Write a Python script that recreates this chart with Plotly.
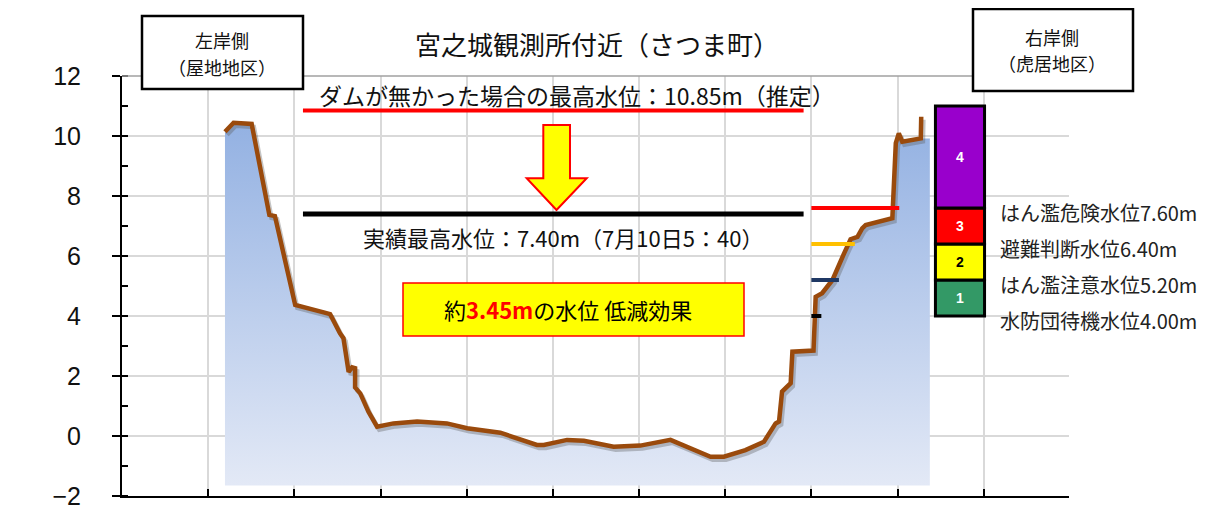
import plotly.graph_objects as go

# ---------------- data ----------------
# river cross-section (distance in m, elevation in m)
section_x = [23.9, 25.9, 30.1, 34.2, 35.5, 40.2, 46.8, 48.3, 50.6, 51.4, 52.6, 53.4, 54.1, 54.1,
             55.3, 57.2, 59.2, 63.0, 68.5, 75.4, 80.1, 87.8, 96.3, 97.9, 103.3, 107.2, 114.1,
             120.3, 127.3, 136.6, 139.7, 144.7, 149.0, 151.7, 152.5, 153.2, 155.2, 155.6, 160.5,
             161.0, 162.5, 164.9, 167.6, 169.1, 170.7, 171.8, 172.6, 178.8, 179.6, 180.3, 181.1,
             185.4, 185.5]
section_y = [10.14, 10.44, 10.40, 7.37, 7.33, 4.37, 4.12, 4.06, 3.42, 3.26, 2.14, 2.29, 2.26, 1.62,
             1.42, 0.81, 0.31, 0.42, 0.48, 0.42, 0.26, 0.11, -0.30, -0.30, -0.13, -0.16, -0.36,
             -0.32, -0.13, -0.69, -0.69, -0.47, -0.19, 0.42, 0.48, 1.48, 1.76, 2.81, 2.85,
             4.64, 4.76, 5.20, 6.09, 6.56, 6.64, 6.92, 7.03, 7.26, 9.76, 10.09, 9.81,
             9.92, 10.64]
FILL_RIGHT_X = 187.5
FILL_BOTTOM = -1.65

# peak water levels
no_dam_level = 10.85
actual_level = 7.40
peak_line_x = [42.0, 158.2]

# warning levels (bottom to top)
level_values = [4.00, 5.20, 6.40, 7.60]
level_names = ["水防団待機水位4.00m", "はん濫注意水位5.20m", "避難判断水位6.40m", "はん濫危険水位7.60m"]
level_line_colors = ["#000000", "#1f3864", "#ffc000", "#ff0000"]
level_line_start = 160.0

# stacked level boxes
box_x = 194.5
box_width = 11.4
box_bases = [4.00, 5.20, 6.40, 7.60]
box_heights = [1.20, 1.20, 1.20, 3.40]
box_labels = ["1", "2", "3", "4"]
box_colors = ["#339966", "#ffff00", "#ff0000", "#9900cc"]
box_text_colors = ["#ffffff", "#000000", "#ffffff", "#ffffff"]

# ---------------- figure geometry ----------------
# the page body has an 8px default margin, so the figure is drawn 8px in from the window corner
OFF = 8
WIN_W, WIN_H = 1232, 518
W, H = WIN_W - OFF, WIN_H - OFF
PL, PR, PT, PB = 122, 1069, 76, 496          # plot area in window pixels
ML, MR, MT, MB = PL - OFF, WIN_W - PR, PT - OFF, WIN_H - PB
PW, PH = PR - PL, PB - PT


def px(xp):
    return (xp - PL) / PW


def py(yp):
    return (PB - yp) / PH


JP = "Noto Sans CJK JP"
fig = go.Figure()

# filled cross-section
fill_x = section_x[:-1] + [FILL_RIGHT_X, FILL_RIGHT_X, section_x[0]]
fill_y = section_y[:-1] + [section_y[-2], FILL_BOTTOM, FILL_BOTTOM]
fig.add_trace(go.Scatter(
    x=fill_x, y=fill_y, fill="toself", mode="none",
    fillgradient=dict(type="vertical", colorscale=[[0, "#e3e9f6"], [1, "#93b1e2"]]),
    hoverinfo="skip", showlegend=False))

# shadow of profile line
fig.add_trace(go.Scatter(
    x=[v + 0.5 for v in section_x], y=[v - 0.1 for v in section_y], mode="lines",
    line=dict(color="rgba(90,90,90,0.35)", width=4.5), hoverinfo="skip", showlegend=False))
# profile line
fig.add_trace(go.Scatter(
    x=section_x, y=section_y, mode="lines",
    line=dict(color="#9a4a0c", width=4.5), showlegend=False))

# peak level lines
fig.add_trace(go.Scatter(x=peak_line_x, y=[no_dam_level] * 2, mode="lines",
                         line=dict(color="#ff0000", width=4), showlegend=False))
fig.add_trace(go.Scatter(x=peak_line_x, y=[actual_level] * 2, mode="lines",
                         line=dict(color="#000000", width=5), showlegend=False))


# warning level lines ending on right bank
def bank_crossing(level):
    for i in range(len(section_x) - 1):
        x0, x1 = section_x[i], section_x[i + 1]
        y0, y1 = section_y[i], section_y[i + 1]
        if x0 >= level_line_start - 1 and y0 <= level <= y1 and y1 != y0:
            return x0 + (level - y0) / (y1 - y0) * (x1 - x0)
    return level_line_start


for lv, col in zip(level_values, level_line_colors):
    xe = bank_crossing(lv) + 1.5
    fig.add_trace(go.Scatter(x=[level_line_start, xe], y=[lv, lv], mode="lines",
                             line=dict(color=col, width=4), showlegend=False))

# stacked level boxes
for b, h, lab, c, tc in zip(box_bases, box_heights, box_labels, box_colors, box_text_colors):
    fig.add_trace(go.Bar(
        x=[box_x], y=[h], base=[b], width=box_width,
        marker=dict(color=c, line=dict(color="#000000", width=3)),
        cliponaxis=False, showlegend=False, hoverinfo="skip"))
    fig.add_annotation(x=box_x, y=b + h / 2, xref="x", yref="y", text=f"<b>{lab}</b>",
                       showarrow=False, xanchor="center", yanchor="middle",
                       font=dict(color=tc, size=14, family="Liberation Sans"))

# level names
for lv, name in zip(level_values, level_names):
    fig.add_annotation(x=203.3, y=lv, xref="x", yref="y", text=name, showarrow=False,
                       xanchor="left", yanchor="middle", yshift=-4,
                       font=dict(family=JP, size=20, color="#222222"))

shapes = []
# top frame line
shapes.append(dict(type="line", xref="paper", yref="paper", x0=0, x1=1, y0=1, y1=1,
                   line=dict(color="#a0a0a0", width=1.5), layer="above"))
# bank boxes
shapes.append(dict(type="rect", xref="paper", yref="paper", x0=px(142), x1=px(303),
                   y0=py(89), y1=py(16), fillcolor="#ffffff", line=dict(color="#000000", width=2.5),
                   layer="above"))
shapes.append(dict(type="rect", xref="paper", yref="paper", x0=px(973), x1=px(1133),
                   y0=py(91), y1=py(9), fillcolor="#ffffff", line=dict(color="#000000", width=2.5),
                   layer="above"))
# effect box
shapes.append(dict(type="rect", xref="paper", yref="paper", x0=px(403), x1=px(744),
                   y0=py(336), y1=py(283), fillcolor="#ffff00", line=dict(color="#ff0000", width=1.5),
                   layer="above"))
# arrow
pts = [(543.3, 125), (570, 125), (570, 178.3), (586.7, 178.3), (556.5, 210), (526.7, 178.3),
       (543.3, 178.3)]
path = "M " + " L ".join(f"{px(a):.5f},{py(b):.5f}" for a, b in pts) + " Z"
shapes.append(dict(type="path", xref="paper", yref="paper", path=path, fillcolor="#ffff00",
                   line=dict(color="#ff0000", width=2), layer="above"))


def ann(xp, yp, text, size, color="#111111", family=JP):
    fig.add_annotation(x=px(xp), y=py(yp), xref="paper", yref="paper", text=text, showarrow=False,
                       xanchor="center", yanchor="middle", font=dict(family=family, size=size, color=color))


ann(597, 43, "宮之城観測所付近（さつま町）", 26)
ann(222, 40, "左岸側", 18)
ann(222, 67, "（屋地地区）", 18)
ann(1052, 37, "右岸側", 18)
ann(1052, 63, "（虎居地区）", 18)
ann(577, 95, "ダムが無かった場合の最高水位：10.85m（推定）", 23)
ann(563, 237, "実績最高水位：7.40m（7月10日5：40）", 22)
ann(568, 309, "約<b><span style='color:#ff0000'>3.45m</span></b>の水位 低減効果", 22, color="#000000")

fig.update_layout(
    width=W, height=H, margin=dict(l=ML, r=MR, t=MT, b=MB, autoexpand=False),
    paper_bgcolor="#ffffff", plot_bgcolor="#ffffff",
    barmode="overlay", shapes=shapes, showlegend=False,
    xaxis=dict(range=[0, 219.8], dtick=20, tick0=0, showgrid=True, gridcolor="#d9d9d9", gridwidth=1.5,
               showticklabels=False, ticks="inside", ticklen=7, tickwidth=2, tickcolor="#000000",
               showline=True, linecolor="#000000", linewidth=2, zeroline=False, fixedrange=True,
               automargin=False),
    yaxis=dict(range=[-2, 12], dtick=2, tick0=0, showgrid=True, gridcolor="#d9d9d9", gridwidth=1.5,
               ticks="outside", ticklen=8, tickwidth=2, tickcolor="#000000",
               minor=dict(dtick=1, ticks="inside", ticklen=6, tickwidth=2, tickcolor="#000000", showgrid=False),
               showline=True, linecolor="#000000", linewidth=2, zeroline=False,
               tickfont=dict(family="Liberation Sans", size=25, color="#111111"),
               ticklabelstandoff=26, fixedrange=True, automargin=False),
)

fig.write_html("out.html")
